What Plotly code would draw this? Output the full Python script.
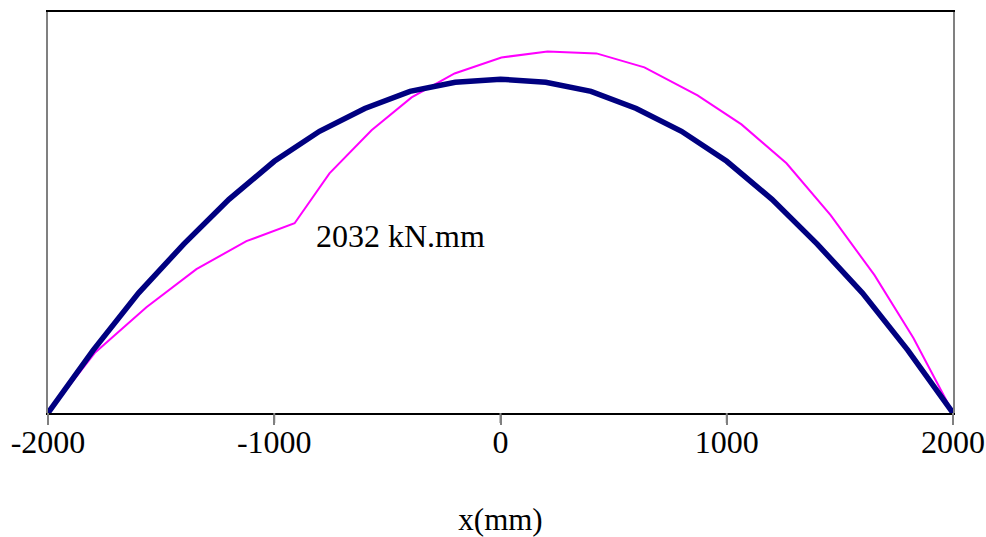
import plotly.graph_objects as go

# Blue (thick) curve: x positions (mm) and moment values
x_blue = [-2000, -1800, -1600, -1400, -1200, -1000, -800, -600, -400, -200, 0,
          200, 400, 600, 800, 1000, 1200, 1400, 1600, 1800, 2000]
y_blue = [0, 383, 730, 1028, 1301, 1532, 1715, 1854, 1958, 2013, 2032,
          2013, 1958, 1854, 1715, 1532, 1301, 1028, 730, 383, 0]

# Magenta (thin) curve
x_mag = [-2000, -1794, -1565, -1344, -1123, -910, -756, -570, -393, -203, 4,
         208, 424, 636, 871, 1065, 1264, 1459, 1653, 1825, 2000]
y_mag = [0, 365, 644, 876, 1046, 1155, 1459, 1721, 1921, 2067, 2164,
         2201, 2189, 2104, 1933, 1757, 1520, 1204, 839, 456, 0]

tick_vals = [-2000, -1000, 0, 1000, 2000]
tick_text = ["-2000", "-1000", "0", "1000", "2000"]

X_RANGE = [-2000, 2000]
FONT = "Liberation Serif, Times New Roman, serif"

fig = go.Figure()
fig.add_trace(go.Scatter(x=x_mag, y=y_mag, mode="lines",
                         line=dict(color="#FF00FF", width=2),
                         showlegend=False, hoverinfo="skip"))
fig.add_trace(go.Scatter(x=x_blue, y=y_blue, mode="lines",
                         line=dict(color="#000080", width=5.5),
                         showlegend=False, hoverinfo="skip"))

fig.add_annotation(x=-825, y=1080, text="2032 kN.mm", showarrow=False,
                   xanchor="left", yanchor="middle",
                   font=dict(family=FONT, size=32, color="black"))

# outside tick marks below the x axis (paper-referenced so they are not clipped)
for v in tick_vals:
    xp = (v - X_RANGE[0]) / (X_RANGE[1] - X_RANGE[0])
    fig.add_shape(type="line", xref="paper", yref="paper",
                  ysizemode="pixel", yanchor=0, x0=xp, x1=xp, y0=0, y1=-10,
                  line=dict(color="#808080", width=2), layer="above")

fig.update_layout(
    width=986, height=537,
    margin=dict(l=48, r=33, t=12, b=124, autoexpand=False),
    paper_bgcolor="white", plot_bgcolor="white",
    font=dict(family=FONT, size=31, color="black"),
    xaxis=dict(range=X_RANGE, tickvals=tick_vals, ticktext=tick_text,
               automargin=False,
               showgrid=False, zeroline=False,
               showline=True, linecolor="black", linewidth=1.5, mirror=True,
               ticks="outside", ticklen=10, tickwidth=2, tickcolor="#808080",
               ticklabelstandoff=-10,
               tickfont=dict(family=FONT, size=32),
               title=dict(text="x(mm)", font=dict(family=FONT, size=31), standoff=50)),
    yaxis=dict(range=[0, 2441], showticklabels=False, ticks="",
               automargin=False,
               showgrid=False, zeroline=False,
               showline=True, linecolor="#808080", linewidth=1.5, mirror=True),
)

fig.write_html("out.html")
